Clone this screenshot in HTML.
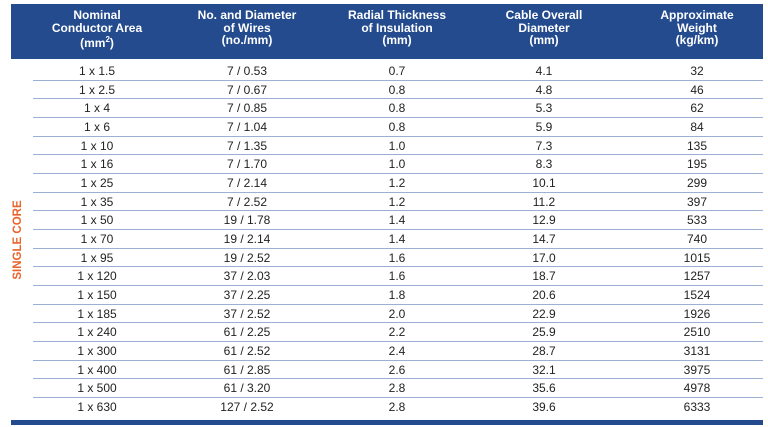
<!DOCTYPE html>
<html><head><meta charset="utf-8"><style>
body{margin:0;width:768px;height:427px;background:#fff;font-family:"Liberation Sans",sans-serif;position:relative;overflow:hidden}
#hdr{position:absolute;left:11px;top:4px;width:752px;height:55px;background:#234b8e}
.h{position:absolute;top:9px;color:#fff;font-weight:bold;font-size:12px;line-height:12.5px;text-align:center;transform:translateX(-50%);white-space:nowrap}
.row{position:absolute;left:33px;width:730px;height:18.67px;border-bottom:1.3px solid #9cb0d4;box-sizing:border-box}
.c{position:absolute;top:2px;font-size:12px;color:#222;transform:translateX(-50%);white-space:nowrap}
#side{position:absolute;left:18px;top:240px;transform:translate(-50%,-50%) rotate(-90deg);color:#e8632a;font-weight:bold;font-size:11.5px;white-space:nowrap}
#bot{position:absolute;left:11px;top:420px;width:752px;height:5px;background:#234b8e}
</style></head><body>
<div id="hdr"></div>
<div class="h" style="left:97px">Nominal<br>Conductor Area<br>(mm<sup style="font-size:8px">2</sup>)</div>
<div class="h" style="left:247px">No. and Diameter<br>of Wires<br>(no./mm)</div>
<div class="h" style="left:397px">Radial Thickness<br>of Insulation<br>(mm)</div>
<div class="h" style="left:544px">Cable Overall<br>Diameter<br>(mm)</div>
<div class="h" style="left:697px">Approximate<br>Weight<br>(kg/km)</div>
<div id="side">SINGLE CORE</div>
<div id="rows"></div>
<div id="bot"></div>
<script>
const areas=["1 x 1.5","1 x 2.5","1 x 4","1 x 6","1 x 10","1 x 16","1 x 25","1 x 35","1 x 50","1 x 70","1 x 95","1 x 120","1 x 150","1 x 185","1 x 240","1 x 300","1 x 400","1 x 500","1 x 630"];
const wires=["7 / 0.53","7 / 0.67","7 / 0.85","7 / 1.04","7 / 1.35","7 / 1.70","7 / 2.14","7 / 2.52","19 / 1.78","19 / 2.14","19 / 2.52","37 / 2.03","37 / 2.25","37 / 2.52","61 / 2.25","61 / 2.52","61 / 2.85","61 / 3.20","127 / 2.52"];
const insul=["0.7","0.8","0.8","0.8","1.0","1.0","1.2","1.2","1.4","1.4","1.6","1.6","1.8","2.0","2.2","2.4","2.6","2.8","2.8"];
const diam=["4.1","4.8","5.3","5.9","7.3","8.3","10.1","11.2","12.9","14.7","17.0","18.7","20.6","22.9","25.9","28.7","32.1","35.6","39.6"];
const weight=["32","46","62","84","135","195","299","397","533","740","1015","1257","1524","1926","2510","3131","3975","4978","6333"];
const xs=[97-33,247-33,397-33,544-33,697-33];
const host=document.getElementById('rows');
areas.forEach((a,i)=>{
  const r=document.createElement('div');
  r.className='row';
  
  
  r.style.top=(62+i*18.67)+'px';
  if(i===areas.length-1) r.style.borderBottom='none';
  [a,wires[i],insul[i],diam[i],weight[i]].forEach((v,j)=>{
    const c=document.createElement('div');
    c.className='c';
    
    
    c.style.left=xs[j]+'px';
    c.textContent=v;
    r.appendChild(c);
  });
  host.appendChild(r);
});
</script>
</body></html>
